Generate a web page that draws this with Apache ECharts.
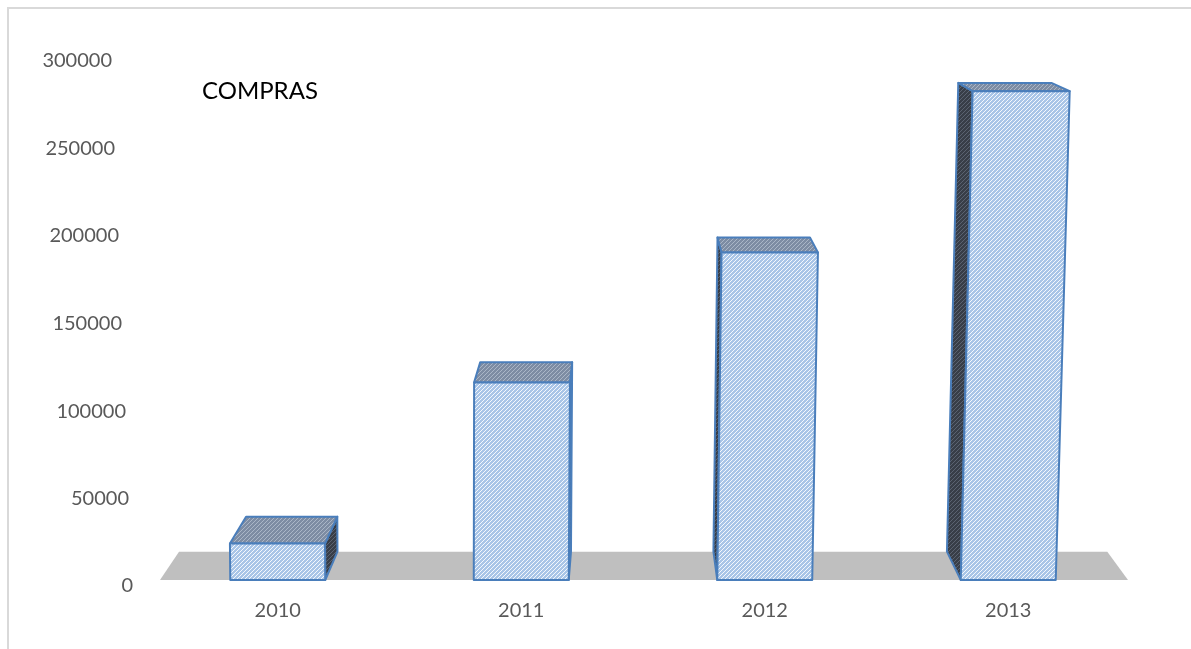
<!DOCTYPE html>
<html>
<head>
<meta charset="utf-8">
<script src="https://cdn.jsdelivr.net/npm/echarts@6/dist/echarts.min.js"></script>
<style>
  html, body { margin: 0; padding: 0; background: #fff; }
  #chart { width: 1191px; height: 649px; }
</style>
</head>
<body>
<div id="chart"></div>
<script>
let years = ["2010", "2011", "2012", "2013"];
let compras = [21000, 114000, 189000, 282000];
let yTicks = [0, 50000, 100000, 150000, 200000, 250000, 300000];

// diagonal hatch fill like the excel pattern
function hatch(bg, fg) {
  let c = document.createElement("canvas");
  c.width = 4;
  c.height = 4;
  let ctx = c.getContext("2d");
  ctx.fillStyle = bg;
  ctx.fillRect(0, 0, 4, 4);
  ctx.strokeStyle = fg;
  ctx.lineWidth = 1;
  ctx.beginPath();
  ctx.moveTo(0, 4);
  ctx.lineTo(4, 0);
  ctx.moveTo(-1, 1);
  ctx.lineTo(1, -1);
  ctx.moveTo(3, 5);
  ctx.lineTo(5, 3);
  ctx.stroke();
  return { image: c, repetition: "repeat" };
}

let frontFill = hatch("#a9c5e7", "#f4f8fd");
let topFill = hatch("#7d8ca3", "#aab6c7");
let sideFill = hatch("#383e48", "#5b6371");
let edge = "#4a7ebb";

let DEPTH = 0.041; // share of the way to the vanishing point
let LEAN = 4.6e-5; // vertical lines spread a bit upward

function persp(cs) {
  return {
    vp: [cs.x + cs.width * 0.48, cs.y - cs.height * 0.33],
    cx: cs.x + cs.width * 0.286
  };
}

function back(p, vp) {
  return [p[0] + DEPTH * (vp[0] - p[0]), p[1] + DEPTH * (vp[1] - p[1])];
}

function renderFloor(params, api) {
  let cs = params.coordSys;
  let pp = persp(cs);
  let y0 = api.coord([0, 0])[1];
  let fl = [cs.x + 4, y0];
  let fr = [cs.x + cs.width - 2, y0];
  return {
    type: "polygon",
    shape: { points: [fl, fr, back(fr, pp.vp), back(fl, pp.vp)] },
    style: { fill: "#bfbfbf" },
    silent: true
  };
}

function renderBox(params, api) {
  let cs = params.coordSys;
  let pp = persp(cs);
  let idx = api.value(0);
  let base = api.coord([idx, 0]);
  let top = api.coord([idx, api.value(1)]);
  let w = api.size([1, 0])[0] * 0.39;
  let h = base[1] - top[1];
  let pt = function(x, hh) {
    return [x + LEAN * (x - pp.cx) * hh, base[1] - hh];
  };
  let flb = pt(base[0] - w / 2, 0);
  let frb = pt(base[0] + w / 2, 0);
  let frt = pt(base[0] + w / 2, h);
  let flt = pt(base[0] - w / 2, h);
  let side;
  if (base[0] < pp.vp[0]) {
    side = [frb, frt, back(frt, pp.vp), back(frb, pp.vp)];
  } else {
    side = [flb, flt, back(flt, pp.vp), back(flb, pp.vp)];
  }
  let st = { stroke: edge, lineWidth: 2, lineJoin: "round" };
  return {
    type: "group",
    children: [
      { type: "polygon", shape: { points: side }, style: Object.assign({ fill: sideFill }, st) },
      { type: "polygon", shape: { points: [flt, frt, back(frt, pp.vp), back(flt, pp.vp)] }, style: Object.assign({ fill: topFill }, st) },
      { type: "polygon", shape: { points: [flb, frb, frt, flt] }, style: Object.assign({ fill: frontFill }, st) }
    ]
  };
}

// labels sit on the slanted back wall, so nudge each one
let rich = {};
yTicks.forEach(function(v, i) {
  let dy = 6 - 0.83 * i;
  rich["t" + i] = {
    color: "#595959",
    fontSize: 20,
    fontFamily: "Lato",
    padding: [Math.round(dy * 2), Math.round(21 * i / 6), 0, 0]
  };
});

let myChart = echarts.init(document.getElementById("chart"));
let option = {
  backgroundColor: "#fff",
  animation: false,
  title: {
    text: "COMPRAS",
    left: 202,
    top: 79,
    padding: 0,
    textStyle: { color: "#000", fontSize: 24, fontWeight: "normal", fontFamily: "Lato" }
  },
  graphic: [{
    type: "rect",
    shape: { x: 8, y: 8, width: 1300, height: 800 },
    style: { fill: "none", stroke: "#d9d9d9", lineWidth: 2 },
    silent: true
  }],
  grid: { left: 156, right: 61, top: 60, bottom: 69 },
  xAxis: {
    type: "category",
    data: years,
    axisLine: { show: false },
    axisTick: { show: false },
    axisLabel: { color: "#595959", fontSize: 20, fontFamily: "Lato", margin: 21 }
  },
  yAxis: {
    type: "value",
    min: 0,
    max: 300000,
    interval: 50000,
    axisLine: { show: false },
    axisTick: { show: false },
    splitLine: { show: false },
    axisLabel: {
      margin: 23,
      formatter: function(v) {
        return "{t" + yTicks.indexOf(v) + "|" + v + "}";
      },
      rich: rich
    }
  },
  series: [
    {
      type: "custom",
      renderItem: renderFloor,
      data: [[0, 0]],
      z: 1
    },
    {
      type: "custom",
      renderItem: renderBox,
      data: compras.map(function(v, i) { return [i, v]; }),
      encode: { x: 0, y: 1 },
      z: 2
    }
  ]
};
myChart.setOption(option);
window.addEventListener("resize", function() { myChart.resize(); });
</script>
</body>
</html>
